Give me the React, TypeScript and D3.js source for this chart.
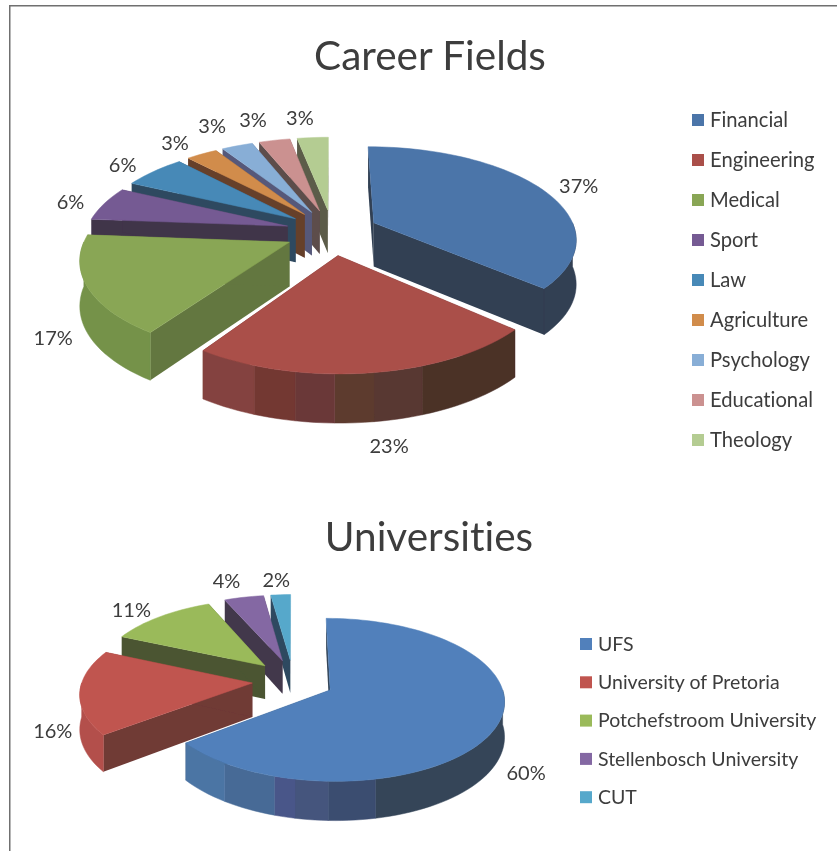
import React from "react";
import * as d3 from "d3";

const careerFields = ["Financial", "Engineering", "Medical", "Sport", "Law", "Agriculture", "Psychology", "Educational", "Theology"];
const careerShares = [37, 23, 17, 6, 6, 3, 3, 3, 3];
const universities = ["UFS", "University of Pretoria", "Potchefstroom University", "Stellenbosch University", "CUT"];
const universityShares = [60, 16, 11, 4, 2];

const careerTop = ["#4b74a9", "#aa4f4a", "#89a654", "#755a93", "#4689b7", "#d18c4c", "#88aed6", "#cb9190", "#b4cc92"];
const careerWall = ["#303f52", "#4b3028", "#647740", "#40344a", "#2f4a60", "#663f2b", "#56597a", "#5d4d4b", "#5b5c48"];
const careerRim = ["#303f52", "#84433f", "#74924a", "#40344a", "#2f4a60", "#663f2b", "#56597a", "#5d4d4b", "#5b5c48"];
const uniTop = ["#5180bb", "#c0544f", "#9aba5a", "#8468a3", "#57a8cb"];
const uniWall = ["#344558", "#6f3a36", "#4b5531", "#43384c", "#2f4a60"];
const uniRim = ["#344558", "#b3504c", "#9aba5a", "#43384c", "#2f4a60"];

// shaded facets on the outer wall: [end fraction of the slice's sweep, colour]
const careerBands: Record<number, [number, string][]> = {
  1: [[0.35, "#4b3028"], [0.49, "#593731"], [0.6, "#5d3a2f"], [0.71, "#6b3939"], [0.83, "#733733"], [1, "#84433f"]],
};
const uniBands: Record<number, [number, string][]> = {
  0: [[0.724, "#344558"], [0.784, "#3b4d70"], [0.826, "#44557d"], [0.853, "#4a5789"], [0.925, "#476a96"], [1, "#4c74a4"]],
};

// label tweaks, px
const careerNudge = [[15, 1], [13, 9], [-3, 26], [-9, 1], [-13, -1], [-14, -4], [-16, -12], [-16, -12], [-11, -11]];
const uniNudge = [[2, 24], [1, 33], [-13, 0], [-12, -7], [-3, -5]];

type Geo = { cx: number; cy: number; rx: number; ry: number; p: number; ex: number; ey: number; h: number; hk: number; labelR: number };

const careerGeo: Geo = { cx: 332, cy: 232, rx: 202, ry: 91, p: 0.16, ex: 0.23, ey: 0.25, h: 44, hk: 0.5, labelR: 1.14 };
const uniGeo: Geo = { cx: 293, cy: 680.5, rx: 170, ry: 78, p: 0.12, ex: 0.24, ey: 0.27, h: 34, hk: 1, labelR: 1.16 };

const lineGen = d3.line<[number, number]>();

function Pie3D({ values, top, wall, rim, bands, nudge, geo }: {
  values: number[]; top: string[]; wall: string[]; rim: string[];
  bands: Record<number, [number, string][]>; nudge: number[][]; geo: Geo;
}) {
  const arcs = d3.pie<number>().sort(null)(values);

  const slices = arcs.map((a, i) => {
    const mid = (a.startAngle + a.endAngle) / 2;
    const ox = Math.sin(mid) * geo.ex;
    const oy = -Math.cos(mid) * geo.ey;
    const proj = (ang: number, r: number, down: boolean): [number, number] => {
      const u = ox + r * Math.sin(ang);
      const v = oy - r * Math.cos(ang);
      const s = 1 / (1 - geo.p * v);
      return [geo.cx + geo.rx * u * s, geo.cy + geo.ry * v * s + (down ? geo.h * Math.pow(s, geo.hk) : 0)];
    };
    const sweep = (from: number, to: number) => {
      const n = Math.max(2, Math.ceil(Math.abs(to - from) / 0.04));
      return d3.range(n + 1).map((k) => from + ((to - from) * k) / n);
    };
    const topPts = [proj(0, 0, false), ...sweep(a.startAngle, a.endAngle).map((t) => proj(t, 1, false))];
    const radial = (ang: number) => [proj(0, 0, false), proj(ang, 1, false), proj(ang, 1, true), proj(0, 0, true)];
    const rimPts = (from: number, to: number) => {
      const ts = sweep(from, to);
      return [...ts.map((t) => proj(t, 1, false)), ...ts.slice().reverse().map((t) => proj(t, 1, true))];
    };
    const span = a.endAngle - a.startAngle;
    let prev = 0;
    // only the part of the rim that faces the viewer gets a wall
    const facets = (bands[i] || [[1, rim[i]] as [number, string]]).flatMap(([f, c]) => {
      const from = Math.max(a.startAngle + span * prev, Math.PI / 2);
      const to = Math.min(a.startAngle + span * f, (3 * Math.PI) / 2);
      prev = f;
      return from < to ? [{ pts: rimPts(from, to), c }] : [];
    });
    return { i, oy, mid, topPts, startWall: radial(a.startAngle), endWall: radial(a.endAngle), facets, proj };
  });

  const painted = slices.slice().sort((p, q) => p.oy - q.oy);

  return (
    <g>
      {painted.map((s) => (
        <g key={s.i}>
          <path d={lineGen(s.startWall) + "Z"} fill={wall[s.i]} />
          <path d={lineGen(s.endWall) + "Z"} fill={wall[s.i]} />
          {s.facets.map((f, k) => (
            <path key={k} d={lineGen(f.pts) + "Z"} fill={f.c} stroke={f.c} strokeWidth={0.5} />
          ))}
          <path d={lineGen(s.topPts) + "Z"} fill={top[s.i]} stroke={top[s.i]} strokeWidth={0.5} />
        </g>
      ))}
      {slices.map((s) => {
        const front = Math.max(0, -Math.cos(s.mid));
        const [x, y] = s.proj(s.mid, geo.labelR, false);
        return (
          <text key={s.i} x={x + nudge[s.i][0]} y={y + geo.h * front + nudge[s.i][1]} dy="0.35em" textAnchor="middle" fontSize={20} fill="#3c3c3c">
            {values[s.i]}%
          </text>
        );
      })}
    </g>
  );
}

function Legend({ names, colors, x, y, step, size }: { names: string[]; colors: string[]; x: number; y: number; step: number; size: number }) {
  return (
    <g>
      {names.map((n, i) => (
        <g key={n} transform={`translate(${x},${y + i * step})`}>
          <rect x={0} y={-6} width={12} height={12} fill={colors[i]} />
          <text x={18} dy="0.35em" fontSize={size} fill="#3c3c3c">{n}</text>
        </g>
      ))}
    </g>
  );
}

export default function App() {
  return (
    <svg width={837} height={851} style={{ position: "absolute", left: 0, top: 0, fontFamily: "Lato, sans-serif", fontVariantLigatures: "none" }}>
      <defs>
        <filter id="soft" x="0" y="0" width="100%" height="100%">
          <feGaussianBlur stdDeviation="0.5" />
        </filter>
      </defs>
      <rect width={837} height={851} fill="#fff" />
      <g filter="url(#soft)">
        <path d="M9.5,851V5.5H837" fill="none" stroke="#6f6f6f" strokeWidth={2} />
        <text x={430} y={70} textAnchor="middle" fontSize={40.5} fill="#3c3c3c">Career Fields</text>
        <Pie3D values={careerShares} top={careerTop} wall={careerWall} rim={careerRim} bands={careerBands} nudge={careerNudge} geo={careerGeo} />
        <Legend names={careerFields} colors={careerTop} x={692} y={120} step={40} size={20.2} />
        <text x={429} y={551} textAnchor="middle" fontSize={40.5} fill="#3c3c3c">Universities</text>
        <Pie3D values={universityShares} top={uniTop} wall={uniWall} rim={uniRim} bands={uniBands} nudge={uniNudge} geo={uniGeo} />
        <Legend names={universities} colors={uniTop} x={580} y={644} step={38.3} size={19.5} />
      </g>
    </svg>
  );
}
